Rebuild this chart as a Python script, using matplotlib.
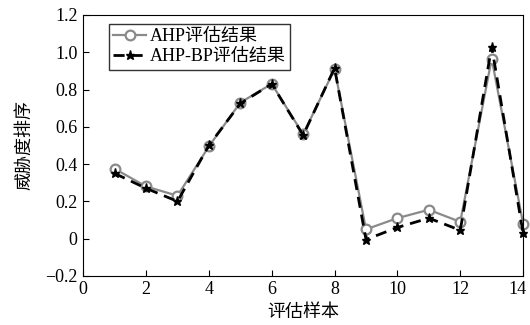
import matplotlib
matplotlib.use('Agg')
import matplotlib.pyplot as plt
import matplotlib.transforms as mtransforms

plt.rcParams['font.family'] = ['Liberation Serif', 'Noto Sans CJK SC']
plt.rcParams['axes.unicode_minus'] = True

# sample index and threat ranking values
samples = list(range(1, 15))
ahp = [0.375, 0.28, 0.23, 0.495, 0.73, 0.83, 0.56, 0.91, 0.05, 0.11, 0.155, 0.09, 0.965, 0.08]
ahp_bp = [0.35, 0.27, 0.20, 0.50, 0.725, 0.83, 0.555, 0.915, -0.005, 0.06, 0.11, 0.045, 1.03, 0.03]
yticks = [-0.2, 0, 0.2, 0.4, 0.6, 0.8, 1.0, 1.2]
ytick_labels = ['\u22120.2', '0', '0.2', '0.4', '0.6', '0.8', '1.0', '1.2']
xticks = [0, 2, 4, 6, 8, 10, 12, 14]

fig = plt.figure(figsize=(5.3, 3.25), dpi=100)
ax = fig.add_axes([0.157, 0.151, 0.83, 0.803])

ax.plot(samples, ahp, color='#8a8a8a', lw=1.6, marker='o', ms=7,
        mfc='white', mec='#8a8a8a', mew=1.6, label='AHP评估结果', clip_on=False)
ax.plot(samples, ahp_bp, color='black', lw=2.0, ls=(0, (4, 2.5)), marker='*',
        ms=6.5, mfc='black', mec='black', label='AHP-BP评估结果', clip_on=False)

ax.set_xlim(0, 14)
ax.set_ylim(-0.2, 1.2)
ax.set_xticks(xticks)
ax.set_yticks(yticks)
ax.set_yticklabels(ytick_labels)
ax.tick_params(direction='in', labelsize=13, length=4, top=False, right=False, pad=4)
ax.set_xlabel('评估样本', fontsize=13, labelpad=4)
ax.set_ylabel('威胁度排序', fontsize=13, labelpad=9)

# nudge the last x tick label so it stays inside the figure
last = ax.get_xticklabels()[-1]
last.set_transform(last.get_transform() +
                   mtransforms.ScaledTranslation(-4 / 72, 0, fig.dpi_scale_trans))

leg = ax.legend(loc='upper left', bbox_to_anchor=(0.05, 0.98), fontsize=13,
                frameon=True, fancybox=False, handlelength=1.8,
                handletextpad=0.2, borderpad=0.25, labelspacing=0.15,
                borderaxespad=0.2)
leg.get_frame().set_edgecolor('black')
leg.get_frame().set_linewidth(1.0)

fig.savefig('out.png', dpi=100)
